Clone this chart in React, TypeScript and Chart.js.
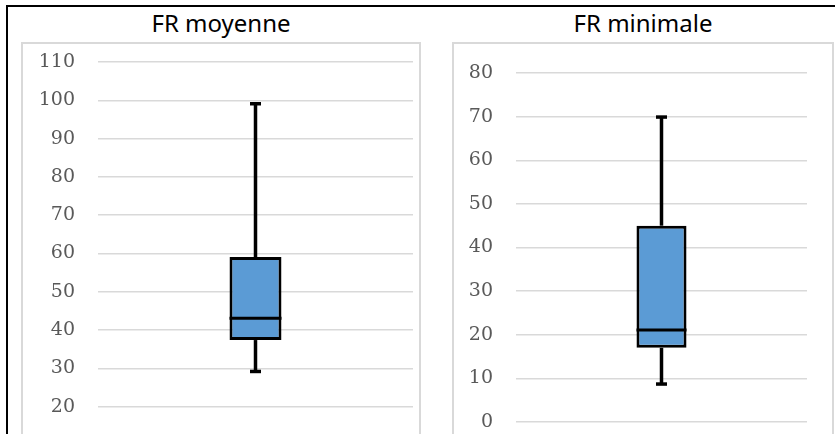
import React, { useEffect, useRef } from "react";
import { Chart, registerables } from "chart.js";

Chart.register(...registerables);

// Data (five-number summaries: min, q1, median, q3, max)
const categories = ["FR"];
const moyenneTitle = "FR moyenne";
const minimaleTitle = "FR minimale";
const moyenneStats = [29.2, 37.4, 43.1, 59.1, 99.1];
const minimaleStats = [8.7, 17.0, 21.1, 45.0, 69.9];
// axis: min, max, step
const moyenneAxis = [10, 110, 10];
const minimaleAxis = [0, 80, 10];

const whiskerPlugin = {
  id: "whiskers",
  afterDatasetsDraw(chart: any, _args: any, opts: any) {
    const stats: number[][] = opts.stats;
    const meta = chart.getDatasetMeta(0);
    const y = chart.scales.y;
    const ctx = chart.ctx;
    const line = (x1: number, y1: number, x2: number, y2: number) => {
      ctx.beginPath();
      ctx.moveTo(x1, y1);
      ctx.lineTo(x2, y2);
      ctx.stroke();
    };
    meta.data.forEach((bar: any, i: number) => {
      const [mn, q1, med, q3, mx] = stats[i];
      const { x, width } = bar.getProps(["x", "width"], true);
      const yMin = y.getPixelForValue(mn);
      const yQ1 = y.getPixelForValue(q1);
      const yMed = y.getPixelForValue(med);
      const yQ3 = y.getPixelForValue(q3);
      const yMax = y.getPixelForValue(mx);
      ctx.save();
      ctx.strokeStyle = "#000";
      ctx.lineCap = "butt";
      ctx.lineWidth = 3.5;
      line(x, yQ3, x, yMax);
      line(x, yQ1, x, yMin);
      ctx.lineWidth = 3.5;
      line(x - 5.5, yMax, x + 5.5, yMax);
      line(x - 5.5, yMin, x + 5.5, yMin);
      ctx.lineWidth = 3;
      line(x - width / 2, yMed, x + width / 2, yMed);
      ctx.restore();
    });
  },
};

type PanelProps = {
  stats: number[];
  axis: number[];
  axisWidth: number;
  padTop: number;
  padRight: number;
  barPct: number;
  width: number;
  height: number;
};

function BoxChart(p: PanelProps) {
  const ref = useRef<HTMLCanvasElement>(null);
  useEffect(() => {
    if (!ref.current) return;
    const [, q1, , q3] = p.stats;
    const chart = new Chart(ref.current, {
      type: "bar",
      data: {
        labels: categories,
        datasets: [
          {
            data: [[q1, q3]] as any,
            backgroundColor: "#5b9bd5",
            borderColor: "#000000",
            borderWidth: 3,
            borderSkipped: false,
            categoryPercentage: 1,
            barPercentage: p.barPct,
          },
        ],
      },
      options: {
        animation: false,
        responsive: false,
        maintainAspectRatio: false,
        layout: { padding: { top: p.padTop, right: p.padRight, bottom: 15, left: 0 } },
        plugins: {
          legend: { display: false },
          tooltip: { enabled: false },
          title: { display: false },
          whiskers: { stats: [p.stats] },
        } as any,
        scales: {
          x: { display: false },
          y: {
            min: p.axis[0],
            max: p.axis[1],
            border: { display: false },
            grid: {
              color: "#d9d9d9",
              lineWidth: 1.5,
              drawTicks: true,
              tickLength: 23,
              tickColor: "rgba(0,0,0,0)",
            },
            ticks: {
              stepSize: p.axis[2],
              padding: 0,
              color: "#595959",
              font: { family: "DejaVu Serif", size: 19 },
            },
            afterFit: (axis: any) => {
              axis.width = p.axisWidth;
            },
          },
        },
      },
      plugins: [whiskerPlugin],
    });
    return () => chart.destroy();
  }, []);
  return (
    <canvas
      ref={ref}
      width={p.width}
      height={p.height}
      style={{ width: p.width, height: p.height, display: "block" }}
    />
  );
}

const titleStyle: React.CSSProperties = {
  position: "absolute",
  top: 8,
  fontFamily: "Noto Sans",
  fontSize: 24,
  lineHeight: "30px",
  color: "#000",
  textAlign: "center",
};

export default function App() {
  return (
    <div
      style={{
        position: "fixed",
        left: 0,
        top: 0,
        width: 840,
        height: 434,
        overflow: "hidden",
        background: "#fff",
      }}
    >
      <div
        style={{
          position: "absolute",
          left: 6,
          top: 5,
          width: 829,
          height: 600,
          borderTop: "2px solid #000",
          borderLeft: "2px solid #000",
          boxSizing: "border-box",
        }}
      />
      <div style={{ ...titleStyle, left: 21, width: 400 }}>{moyenneTitle}</div>
      <div style={{ ...titleStyle, left: 452, width: 382 }}>{minimaleTitle}</div>
      <div
        style={{
          position: "absolute",
          left: 21,
          top: 42,
          width: 400,
          height: 500,
          border: "2px solid #d9d9d9",
          boxSizing: "border-box",
        }}
      >
        <BoxChart
          stats={moyenneStats}
          axis={moyenneAxis}
          axisWidth={75}
          padTop={18}
          padRight={6}
          barPct={0.165}
          width={396}
          height={416}
        />
      </div>
      <div
        style={{
          position: "absolute",
          left: 452,
          top: 42,
          width: 382,
          height: 500,
          border: "2px solid #d9d9d9",
          boxSizing: "border-box",
        }}
      >
        <BoxChart
          stats={minimaleStats}
          axis={minimaleAxis}
          axisWidth={62}
          padTop={29}
          padRight={25}
          barPct={0.172}
          width={378}
          height={393}
        />
      </div>
    </div>
  );
}
